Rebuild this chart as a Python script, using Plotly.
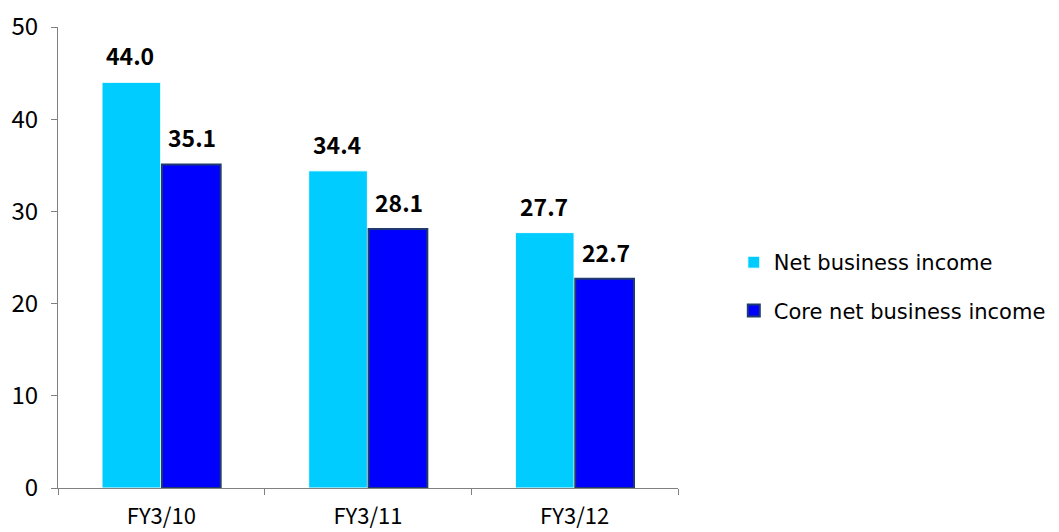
import plotly.graph_objects as go

categories = ["FY3/10", "FY3/11", "FY3/12"]
net_business_income = [44.0, 34.4, 27.7]
core_net_business_income = [35.1, 28.1, 22.7]
y_ticks = [0, 10, 20, 30, 40, 50]

NUM_FONT = "Noto Sans CJK JP"
LEGEND_FONT = "DejaVu Sans"

fig = go.Figure()
fig.add_trace(go.Bar(
    x=categories, y=net_business_income, name="Net business income",
    marker=dict(color="#00CCFF", line=dict(color="#FFFFFF", width=1)),
    legendgroup="a",
))
fig.add_trace(go.Bar(
    x=categories, y=core_net_business_income, name="Core net business income",
    marker=dict(color="#0000FF", line=dict(color="#1F3A6E", width=2)),
    legendgroup="b",
))

# value labels above each bar
for vals, shift in ((net_business_income, -31), (core_net_business_income, 31)):
    for c, v in zip(categories, vals):
        fig.add_annotation(
            x=c, y=v, text=f"<b>{v:.1f}</b>", showarrow=False,
            xshift=shift, yshift=8, yanchor="bottom",
            font=dict(family=NUM_FONT, size=23, color="#000000"),
        )

fig.update_layout(
    width=1059, height=532,
    margin=dict(l=58, r=381, t=27, b=44, autoexpand=False),
    paper_bgcolor="#FFFFFF", plot_bgcolor="#FFFFFF",
    barmode="group", bargap=0.42, bargroupgap=0.02,
    showlegend=True,
    legend=dict(
        x=1.09, y=0.437, xanchor="left", yanchor="middle",
        font=dict(family=LEGEND_FONT, size=21, color="#000000"),
        tracegroupgap=18, traceorder="grouped",
        itemwidth=30,
    ),
    xaxis=dict(
        type="category", tickson="boundaries", ticks="outside", ticklen=6,
        tickcolor="#808080", showline=True, linecolor="#808080", linewidth=1,
        showgrid=False, ticklabelstandoff=9, automargin=False,
        tickfont=dict(family=NUM_FONT, size=22, color="#000000"),
    ),
    yaxis=dict(
        range=[0, 50], tickvals=y_ticks, ticks="outside", ticklen=6,
        tickcolor="#808080", showline=True, linecolor="#808080", linewidth=1,
        showgrid=False, zeroline=False, ticklabelstandoff=8, automargin=False,
        tickfont=dict(family=NUM_FONT, size=24, color="#000000"),
    ),
)

fig.write_html("out.html")
